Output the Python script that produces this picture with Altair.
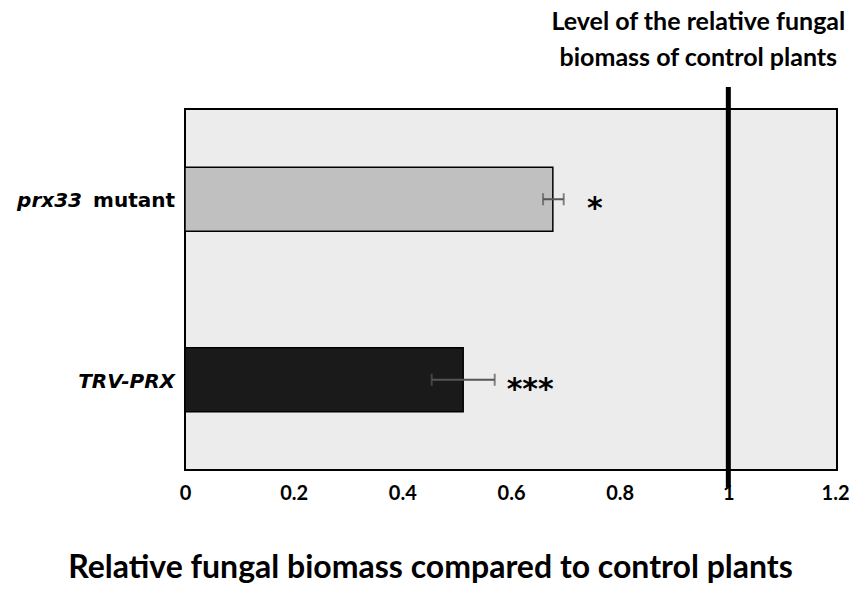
import altair as alt
import pandas as pd

categories = ["prx33 mutant", "TRV-PRX"]
means = [0.677, 0.512]
err_low = [0.659, 0.454]
err_high = [0.697, 0.570]
bar_colors = ["#c0c0c0", "#1a1a1a"]
stars = ["*", "***"]
star_pos = [0.740, 0.592]
x_ticks = [0, 0.2, 0.4, 0.6, 0.8, 1.0, 1.2]
control_level = [1.0]
annot_lines = ["Level of the relative fungal", "biomass of control plants"]

df = pd.DataFrame({
    "cat": categories, "mean": means, "lo": err_low, "hi": err_high,
    "color": bar_colors, "star": stars, "star_x": star_pos,
})

ysc = alt.Scale(domain=categories, paddingInner=0.645, paddingOuter=0.3225)
xsc = alt.Scale(domain=[0, 1.2], nice=False, zero=True)
Y = alt.Y("cat:N", scale=ysc, axis=None, sort=categories)

base = alt.Chart(df)

bars = base.mark_bar(stroke="black", strokeWidth=1.5).encode(
    x=alt.X("mean:Q", scale=xsc, axis=alt.Axis(
        values=x_ticks, grid=False, domain=False, ticks=False,
        labelExpr="format(datum.value, '.1~f')",
        labelFont="Lato", labelFontWeight="bold", labelFontSize=20,
        labelColor="black", labelPadding=13, labelFlush=False,
        labelAlign={"condition": {"test": "datum.value >= 1.19", "value": "right"}, "value": "center"},
        labelOffset={"condition": {"test": "datum.value >= 1.19", "value": 12}, "value": 0},
        title="Relative fungal biomass compared to control plants",
        titleFont="Lato", titleFontWeight="bold", titleFontSize=32,
        titleColor="black", titleX=245, titleY=97, titleAlign="center",
        titleBaseline="middle")),
    y=Y,
    color=alt.Color("color:N", scale=None),
)

err_rule = base.mark_rule(color="#555555", strokeWidth=2).encode(
    x=alt.X("lo:Q", scale=xsc), x2="hi:Q", y=Y
)
cap_lo = base.mark_tick(color="#555555", thickness=2, size=12).encode(
    x=alt.X("lo:Q", scale=xsc), y=Y)
cap_hi = base.mark_tick(color="#555555", thickness=2, size=12).encode(
    x=alt.X("hi:Q", scale=xsc), y=Y)

star_text = base.mark_text(font="DejaVu Sans", fontSize=30, fontWeight="bold",
                           align="left", baseline="alphabetic", dy=19, color="black").encode(
    x=alt.X("star_x:Q", scale=xsc), y=Y, text="star:N")

lab_mutant = base.transform_filter(alt.datum.cat == "prx33 mutant").mark_text(
    font="DejaVu Sans", fontSize=20, fontWeight="bold", align="right",
    baseline="middle", dy=2, color="black").encode(
    x=alt.value(-10), y=Y, text=alt.value("mutant"))
lab_prx = base.transform_filter(alt.datum.cat == "prx33 mutant").mark_text(
    font="DejaVu Sans", fontSize=20, fontWeight="bold", fontStyle="italic",
    align="right", baseline="middle", dy=2, color="black").encode(
    x=alt.value(-103), y=Y, text=alt.value("prx33"))
lab_trv = base.transform_filter(alt.datum.cat == "TRV-PRX").mark_text(
    font="DejaVu Sans", fontSize=20, fontWeight="bold", fontStyle="italic",
    align="right", baseline="middle", dy=2, color="black").encode(
    x=alt.value(-10), y=Y, text="cat:N")

ctrl_df = pd.DataFrame({"level": control_level})
ctrl = alt.Chart(ctrl_df).mark_rule(color="black", strokeWidth=5).encode(
    x=alt.X("level:Q", scale=xsc), y=alt.value(-22), y2=alt.value(378))

annot_df = pd.DataFrame({"level": [1.0, 1.0], "line": annot_lines, "row": [0, 1]})
annot = alt.Chart(annot_df).mark_text(
    font="Lato", fontSize=25, fontWeight="bold", align="center",
    baseline="middle", dx=-30, color="black").encode(
    x=alt.X("level:Q", scale=xsc),
    y=alt.Y("row:Q", scale=alt.Scale(domain=[0, 1], range=[-87, -51]), axis=None),
    text="line:N")

chart = alt.layer(bars, err_rule, cap_lo, cap_hi, star_text, lab_mutant, lab_prx,
                  lab_trv, ctrl, annot).resolve_scale(y="independent").properties(
    width=652, height=361,
    autosize=alt.AutoSizeParams(type="none"),
    padding={"left": 177, "top": 101, "right": 12, "bottom": 116},
    background="white",
).configure_view(fill="#ececec", stroke="black", strokeWidth=2)

chart.save("out.html", embed_options={"renderer": "svg", "actions": False})
